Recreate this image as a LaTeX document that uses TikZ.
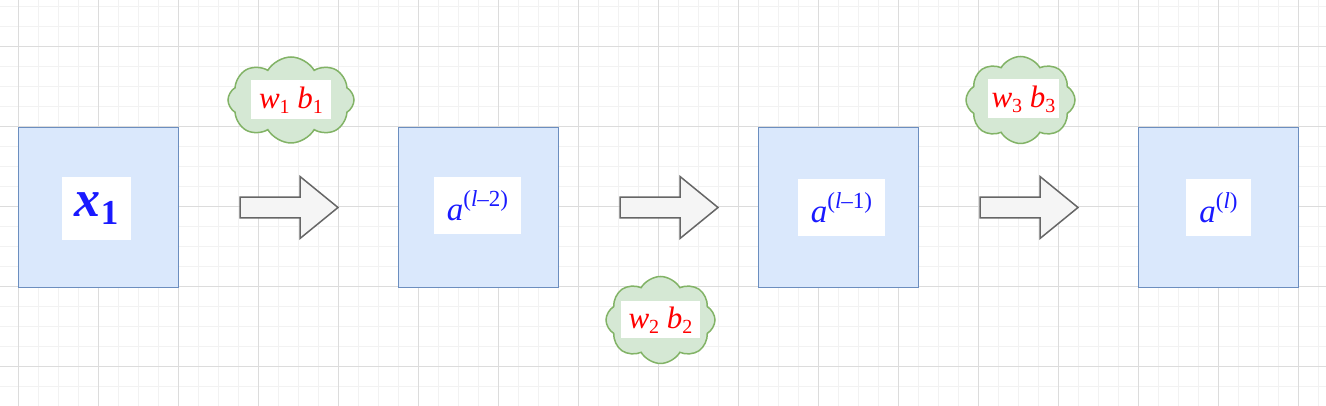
\documentclass[tikz,border=0pt]{standalone}
\usepackage{fontspec}
\setmainfont{Liberation Serif}
\usetikzlibrary{positioning,shapes.symbols,calc}
\definecolor{boxfill}{HTML}{DAE8FC}
\definecolor{boxline}{HTML}{6C8EBF}
\definecolor{cloudfill}{HTML}{D5E8D4}
\definecolor{cloudline}{HTML}{82B366}
\definecolor{arrfill}{HTML}{F5F5F5}
\definecolor{arrline}{HTML}{666666}
\definecolor{gridmajor}{HTML}{DCDCDC}
\definecolor{gridminor}{HTML}{F2F2F2}
\definecolor{labblue}{HTML}{1A1AFF}
\definecolor{labred}{HTML}{FF0000}
\tikzset{
  layer/.style={draw=boxline, fill=boxfill, line width=1.8pt, minimum size=160pt,
    inner sep=0pt, outer sep=0pt},
  param/.style={cloud, cloud puffs=8, cloud puff arc=120, draw=cloudline, fill=cloudfill,
    line width=1.5pt, inner sep=0pt},
  vlab/.style={fill=white, text=labblue, inner ysep=0pt, inner xsep=13pt, minimum height=57pt,
    font=\fontsize{33}{40}\selectfont\itshape},
  wlab/.style={fill=white, text=labred, inner ysep=0pt, inner xsep=8pt, minimum height=39pt,
    font=\fontsize{31}{36}\selectfont\itshape},
  blockarr/.style={draw=arrline, fill=arrfill, line width=1.5pt, line join=miter}
}
% index: size, shift, text
\newcommand\idx[3]{\raisebox{#2}{\fontsize{#1}{#1}\selectfont\upshape #3}}
\newcommand\blockarrow[1]{\draw[blockarr] (#1) ++(0,10.3) -- ++(60,0) -- ++(0,20.7)
  -- ++(38,-31) -- ++(-38,-31) -- ++(0,20.7) -- ++(-60,0) -- cycle;}

\begin{document}
\begin{tikzpicture}[x=1pt,y=1pt]
\useasboundingbox (0,0) rectangle (1326,406);
\fill[white] (0,0) rectangle (1326,406);
% grid
\foreach \x in {18,38,...,1318} \draw[gridminor, line width=1pt] (\x,0) -- (\x,406);
\foreach \y in {19,39,...,399} \draw[gridminor, line width=1pt] (0,\y) -- (1326,\y);
\foreach \x in {18,98,...,1298} \draw[gridmajor, line width=1pt] (\x,0) -- (\x,406);
\foreach \y in {39,119,...,359} \draw[gridmajor, line width=1pt] (0,\y) -- (1326,\y);

% layers
\node[layer] (x1) at (98.5,198.5) {};
\node[layer, right=220pt of x1] (a2) {};
\node[layer, right=200pt of a2] (a1) {};
\node[layer, right=220pt of a1] (a0) {};
\node[vlab, inner xsep=13pt, minimum height=63pt, font=\fontsize{52}{60}\selectfont\bfseries\itshape]
  (tx1) at ($(x1)+(-2,-1)$) {x\idx{35}{-8pt}{1}};
\node[vlab] (ta2) at ($(a2)+(-1,2)$) {a\idx{23}{14pt}{(\textit{l}–2)}};
\node[vlab] (ta1) at ($(a1)+(3,0)$) {a\idx{23}{14pt}{(\textit{l}–1)}};
\node[vlab] (ta0) at (a0) {a\idx{23}{14pt}{(\textit{l})}};

% arrows
\coordinate (t1) at ($(x1.east)+(61.5,0)$);
\coordinate (t2) at ($(a2.east)+(61.5,0)$);
\coordinate (t3) at ($(a1.east)+(61.5,0)$);
\blockarrow{t1} \blockarrow{t2} \blockarrow{t3}

% weights
\node[param, minimum width=126pt, minimum height=86pt] (c1) at (291,306) {};
\node[param, minimum width=109pt, minimum height=87pt] (c2) at (660.5,86) {};
\node[param, minimum width=109pt, minimum height=87pt] (c3) at (1020.5,306) {};
\node[wlab] (w1) at (c1) {w\idx{20}{-5pt}{1} b\idx{20}{-5pt}{1}};
\node[wlab, minimum height=37pt] (w2) at (c2) {w\idx{20}{-5pt}{2} b\idx{20}{-5pt}{2}};
\node[wlab, inner xsep=4pt] (w3) at ($(c3)+(3,1)$) {w\idx{20}{-5pt}{3} b\idx{20}{-5pt}{3}};
\end{tikzpicture}
\end{document}
